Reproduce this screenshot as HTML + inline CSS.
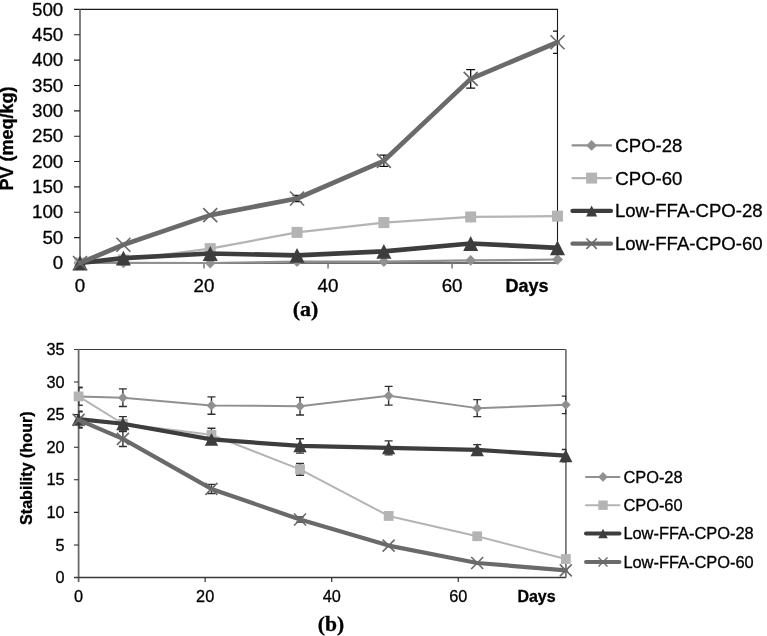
<!DOCTYPE html><html><head><meta charset="utf-8"><style>html,body{margin:0;padding:0;background:#fff;width:767px;height:636px;overflow:hidden}svg{display:block;filter:grayscale(1)}text{stroke:#000;stroke-width:0.3px;paint-order:stroke}</style></head><body>
<svg width="767" height="636" viewBox="0 0 767 636">
<rect width="767" height="636" fill="#fff"/>
<defs><clipPath id="ca"><rect x="80" y="0" width="478.1" height="300"/></clipPath>
<clipPath id="cb"><rect x="78.6" y="330" width="487.8" height="260"/></clipPath></defs>
<path d="M74 9.4H557.5V263" stroke="#1a1a1a" stroke-width="1.1" fill="none"/>
<path d="M80 9.4V268.5" stroke="#7a7a7a" stroke-width="1.9" fill="none"/>
<path d="M74 263H80M74 237.64H80M74 212.28H80M74 186.92H80M74 161.56H80M74 136.2H80M74 110.84H80M74 85.48H80M74 60.12H80M74 34.76H80" stroke="#222" stroke-width="1.1" fill="none"/>
<path d="M74 263H557.5" stroke="#6e6e6e" stroke-width="1.9" fill="none"/>
<path d="M204.03 263V268.5M328.05 263V268.5M452.08 263V268.5" stroke="#7a7a7a" stroke-width="1.5" fill="none"/>
<text x="63.3" y="269.1" font-family="Liberation Sans" font-size="18.75" font-weight="normal" text-anchor="end">0</text>
<text x="63.3" y="243.74" font-family="Liberation Sans" font-size="18.75" font-weight="normal" text-anchor="end">50</text>
<text x="63.3" y="218.38" font-family="Liberation Sans" font-size="18.75" font-weight="normal" text-anchor="end">100</text>
<text x="63.3" y="193.02" font-family="Liberation Sans" font-size="18.75" font-weight="normal" text-anchor="end">150</text>
<text x="63.3" y="167.66" font-family="Liberation Sans" font-size="18.75" font-weight="normal" text-anchor="end">200</text>
<text x="63.3" y="142.3" font-family="Liberation Sans" font-size="18.75" font-weight="normal" text-anchor="end">250</text>
<text x="63.3" y="116.94" font-family="Liberation Sans" font-size="18.75" font-weight="normal" text-anchor="end">300</text>
<text x="63.3" y="91.58" font-family="Liberation Sans" font-size="18.75" font-weight="normal" text-anchor="end">350</text>
<text x="63.3" y="66.22" font-family="Liberation Sans" font-size="18.75" font-weight="normal" text-anchor="end">400</text>
<text x="63.3" y="40.86" font-family="Liberation Sans" font-size="18.75" font-weight="normal" text-anchor="end">450</text>
<text x="63.3" y="15.5" font-family="Liberation Sans" font-size="18.75" font-weight="normal" text-anchor="end">500</text>
<text x="80" y="291.8" font-family="Liberation Sans" font-size="18.75" font-weight="normal" text-anchor="middle">0</text>
<text x="204.03" y="291.8" font-family="Liberation Sans" font-size="18.75" font-weight="normal" text-anchor="middle">20</text>
<text x="328.05" y="291.8" font-family="Liberation Sans" font-size="18.75" font-weight="normal" text-anchor="middle">40</text>
<text x="452.08" y="291.8" font-family="Liberation Sans" font-size="18.75" font-weight="normal" text-anchor="middle">60</text>
<text x="505.5" y="292.4" font-family="Liberation Sans" font-size="18" font-weight="bold" text-anchor="start">Days</text>
<text x="305.5" y="316" font-family="Liberation Serif" font-size="22" font-weight="bold" text-anchor="middle">(a)</text>
<text transform="translate(13.4 138.6) rotate(-90)" font-family="Liberation Sans" font-size="18" font-weight="bold" text-anchor="middle">PV (meq/kg)</text>
<polyline points="80,263 123.41,262.85 210.23,263 297.05,261.58 383.86,261.58 470.68,260.46 557.5,259.5" fill="none" stroke="#909090" stroke-width="2.2" stroke-linejoin="round" stroke-linecap="round"/>
<polygon points="80,257.6 85.4,263 80,268.4 74.6,263" fill="#909090"/>
<polygon points="123.41,257.45 128.81,262.85 123.41,268.25 118.01,262.85" fill="#909090"/>
<polygon points="210.23,257.6 215.63,263 210.23,268.4 204.83,263" fill="#909090"/>
<polygon points="297.05,256.18 302.45,261.58 297.05,266.98 291.65,261.58" fill="#909090"/>
<polygon points="383.86,256.18 389.26,261.58 383.86,266.98 378.46,261.58" fill="#909090"/>
<polygon points="470.68,255.06 476.08,260.46 470.68,265.86 465.28,260.46" fill="#909090"/>
<polygon points="557.5,254.1 562.9,259.5 557.5,264.9 552.1,259.5" fill="#909090"/>
<polyline points="80,263 123.41,259.96 210.23,248.65 297.05,232.37 383.86,222.58 470.68,216.95 557.5,216.13" fill="none" stroke="#b4b4b4" stroke-width="2.2" stroke-linejoin="round" stroke-linecap="round"/>
<rect x="74.5" y="257.5" width="11" height="11" fill="#b4b4b4"/>
<rect x="117.91" y="254.46" width="11" height="11" fill="#b4b4b4"/>
<rect x="204.73" y="243.15" width="11" height="11" fill="#b4b4b4"/>
<rect x="291.55" y="226.87" width="11" height="11" fill="#b4b4b4"/>
<rect x="378.36" y="217.08" width="11" height="11" fill="#b4b4b4"/>
<rect x="465.18" y="211.45" width="11" height="11" fill="#b4b4b4"/>
<rect x="552" y="210.63" width="11" height="11" fill="#b4b4b4"/>
<polyline points="80,263 123.41,258.08 210.23,253.52 297.05,255.39 383.86,251.33 470.68,243.52 557.5,247.78" fill="none" stroke="#3d3d3d" stroke-width="4.7" stroke-linejoin="round" stroke-linecap="round"/>
<polygon points="80,255.6 87.5,270.4 72.5,270.4" fill="#3d3d3d"/>
<polygon points="123.41,250.68 130.91,265.48 115.91,265.48" fill="#3d3d3d"/>
<polygon points="210.23,246.12 217.73,260.92 202.73,260.92" fill="#3d3d3d"/>
<polygon points="297.05,247.99 304.55,262.79 289.55,262.79" fill="#3d3d3d"/>
<polygon points="383.86,243.93 391.36,258.73 376.36,258.73" fill="#3d3d3d"/>
<polygon points="470.68,236.12 478.18,250.92 463.18,250.92" fill="#3d3d3d"/>
<polygon points="557.5,240.38 565,255.18 550,255.18" fill="#3d3d3d"/>
<path d="M297.05 195.49V201.58M292.55 195.49H301.55M292.55 201.58H301.55" stroke="#111" stroke-width="1.3" fill="none" clip-path="url(#ca)"/>
<path d="M383.86 155.22V166.38M379.36 155.22H388.36M379.36 166.38H388.36" stroke="#111" stroke-width="1.3" fill="none" clip-path="url(#ca)"/>
<path d="M470.68 69.6V88.17M466.18 69.6H475.18M466.18 88.17H475.18" stroke="#111" stroke-width="1.3" fill="none" clip-path="url(#ca)"/>
<path d="M557.5 31.21V53.32M553 31.21H562M553 53.32H562" stroke="#111" stroke-width="1.3" fill="none" clip-path="url(#ca)"/>
<polyline points="80,263 123.41,244.79 210.23,215.12 297.05,198.53 383.86,160.8 470.68,78.89 557.5,42.27" fill="none" stroke="#6a6a6a" stroke-width="4.7" stroke-linejoin="round" stroke-linecap="round"/>
<path d="M73 256L87 270M87 256L73 270" stroke="#6a6a6a" stroke-width="1.65" fill="none"/>
<path d="M116.41 237.79L130.41 251.79M130.41 237.79L116.41 251.79" stroke="#6a6a6a" stroke-width="1.65" fill="none"/>
<path d="M203.23 208.12L217.23 222.12M217.23 208.12L203.23 222.12" stroke="#6a6a6a" stroke-width="1.65" fill="none"/>
<path d="M290.05 191.53L304.05 205.53M304.05 191.53L290.05 205.53" stroke="#6a6a6a" stroke-width="1.65" fill="none"/>
<path d="M376.86 153.8L390.86 167.8M390.86 153.8L376.86 167.8" stroke="#6a6a6a" stroke-width="1.65" fill="none"/>
<path d="M463.68 71.89L477.68 85.89M477.68 71.89L463.68 85.89" stroke="#6a6a6a" stroke-width="1.65" fill="none"/>
<path d="M550.5 35.27L564.5 49.27M564.5 35.27L550.5 49.27" stroke="#6a6a6a" stroke-width="1.65" fill="none"/>
<path d="M572.5 145.4H611" stroke="#909090" stroke-width="2.2" stroke-linecap="round" fill="none"/>
<polygon points="591.6,140 597,145.4 591.6,150.8 586.2,145.4" fill="#909090"/>
<text x="615.3" y="151.8" font-family="Liberation Sans" font-size="18.6" font-weight="normal" text-anchor="start">CPO-28</text>
<path d="M572.5 178.1H611" stroke="#b4b4b4" stroke-width="2.2" stroke-linecap="round" fill="none"/>
<rect x="586.1" y="172.6" width="11" height="11" fill="#b4b4b4"/>
<text x="615.3" y="184.5" font-family="Liberation Sans" font-size="18.6" font-weight="normal" text-anchor="start">CPO-60</text>
<path d="M572.5 210.9H611" stroke="#3d3d3d" stroke-width="4.3" stroke-linecap="round" fill="none"/>
<polygon points="591.6,205.4 597.1,216.4 586.1,216.4" fill="#3d3d3d"/>
<text x="614.9" y="217.3" font-family="Liberation Sans" font-size="18.6" font-weight="normal" text-anchor="start">Low-FFA-CPO-28</text>
<path d="M572.5 243.7H611" stroke="#6a6a6a" stroke-width="4.3" stroke-linecap="round" fill="none"/>
<path d="M586.4 238.5L596.8 248.9M596.8 238.5L586.4 248.9" stroke="#6a6a6a" stroke-width="1.6" fill="none"/>
<text x="614.9" y="250.1" font-family="Liberation Sans" font-size="18.6" font-weight="normal" text-anchor="start">Low-FFA-CPO-60</text>
<path d="M74 349.5H565.8" stroke="#3a3a3a" stroke-width="1.2" fill="none"/>
<path d="M565.9 349.5V577.5" stroke="#787878" stroke-width="1.8" fill="none"/>
<path d="M78.6 349.5V582" stroke="#6a6a6a" stroke-width="1.8" fill="none"/>
<path d="M74 577.5H78.6M74 544.93H78.6M74 512.36H78.6M74 479.79H78.6M74 447.21H78.6M74 414.64H78.6M74 382.07H78.6" stroke="#222" stroke-width="1.1" fill="none"/>
<path d="M74 577.5H565.8" stroke="#3a3a3a" stroke-width="1.4" fill="none"/>
<path d="M205.15 577.5V582.1M331.69 577.5V582.1M458.24 577.5V582.1" stroke="#333" stroke-width="1.2" fill="none"/>
<text x="64.6" y="583.2" font-family="Liberation Sans" font-size="16.3" font-weight="normal" text-anchor="end">0</text>
<text x="64.6" y="550.63" font-family="Liberation Sans" font-size="16.3" font-weight="normal" text-anchor="end">5</text>
<text x="64.6" y="518.06" font-family="Liberation Sans" font-size="16.3" font-weight="normal" text-anchor="end">10</text>
<text x="64.6" y="485.49" font-family="Liberation Sans" font-size="16.3" font-weight="normal" text-anchor="end">15</text>
<text x="64.6" y="452.91" font-family="Liberation Sans" font-size="16.3" font-weight="normal" text-anchor="end">20</text>
<text x="64.6" y="420.34" font-family="Liberation Sans" font-size="16.3" font-weight="normal" text-anchor="end">25</text>
<text x="64.6" y="387.77" font-family="Liberation Sans" font-size="16.3" font-weight="normal" text-anchor="end">30</text>
<text x="64.6" y="355.2" font-family="Liberation Sans" font-size="16.3" font-weight="normal" text-anchor="end">35</text>
<text x="78.6" y="601.8" font-family="Liberation Sans" font-size="16.3" font-weight="normal" text-anchor="middle">0</text>
<text x="205.15" y="601.8" font-family="Liberation Sans" font-size="16.3" font-weight="normal" text-anchor="middle">20</text>
<text x="331.69" y="601.8" font-family="Liberation Sans" font-size="16.3" font-weight="normal" text-anchor="middle">40</text>
<text x="458.24" y="601.8" font-family="Liberation Sans" font-size="16.3" font-weight="normal" text-anchor="middle">60</text>
<text x="517.4" y="601.8" font-family="Liberation Sans" font-size="16" font-weight="bold" text-anchor="start">Days</text>
<text x="331" y="631.3" font-family="Liberation Serif" font-size="21.6" font-weight="bold" text-anchor="middle">(b)</text>
<text transform="translate(31.6 468.2) rotate(-90)" font-family="Liberation Sans" font-size="16.1" font-weight="bold" text-anchor="middle">Stability (hour)</text>
<path d="M78.6 387.48V405.33M74.6 387.48H82.6M74.6 405.33H82.6" stroke="#303030" stroke-width="1.4" fill="none" clip-path="url(#cb)"/>
<path d="M122.89 388.91V406.5M118.89 388.91H126.89M118.89 406.5H126.89" stroke="#303030" stroke-width="1.4" fill="none" clip-path="url(#cb)"/>
<path d="M211.47 396.86V414.19M207.47 396.86H215.47M207.47 414.19H215.47" stroke="#303030" stroke-width="1.4" fill="none" clip-path="url(#cb)"/>
<path d="M300.05 397.38V414.97M296.05 397.38H304.05M296.05 414.97H304.05" stroke="#303030" stroke-width="1.4" fill="none" clip-path="url(#cb)"/>
<path d="M388.64 386.37V405.13M384.64 386.37H392.64M384.64 405.13H392.64" stroke="#303030" stroke-width="1.4" fill="none" clip-path="url(#cb)"/>
<path d="M477.22 399.66V416.6M473.22 399.66H481.22M473.22 416.6H481.22" stroke="#303030" stroke-width="1.4" fill="none" clip-path="url(#cb)"/>
<path d="M565.8 396.08V413.67M561.8 396.08H569.8M561.8 413.67H569.8" stroke="#303030" stroke-width="1.4" fill="none" clip-path="url(#cb)"/>
<polyline points="78.6,396.4 122.89,397.71 211.47,405.52 300.05,406.17 388.64,395.75 477.22,408.13 565.8,404.87" fill="none" stroke="#909090" stroke-width="2" stroke-linejoin="round" stroke-linecap="round"/>
<polygon points="78.6,391.5 83.5,396.4 78.6,401.3 73.7,396.4" fill="#909090"/>
<polygon points="122.89,392.81 127.79,397.71 122.89,402.61 117.99,397.71" fill="#909090"/>
<polygon points="211.47,400.62 216.37,405.52 211.47,410.42 206.57,405.52" fill="#909090"/>
<polygon points="300.05,401.27 304.95,406.17 300.05,411.07 295.15,406.17" fill="#909090"/>
<polygon points="388.64,390.85 393.54,395.75 388.64,400.65 383.74,395.75" fill="#909090"/>
<polygon points="477.22,403.23 482.12,408.13 477.22,413.03 472.32,408.13" fill="#909090"/>
<polygon points="565.8,399.97 570.7,404.87 565.8,409.77 560.9,404.87" fill="#909090"/>
<path d="M78.6 387.48V405.33M74.6 387.48H82.6M74.6 405.33H82.6" stroke="#303030" stroke-width="1.4" fill="none" clip-path="url(#cb)"/>
<path d="M211.47 428.32V441.35M207.47 428.32H215.47M207.47 441.35H215.47" stroke="#303030" stroke-width="1.4" fill="none" clip-path="url(#cb)"/>
<path d="M300.05 463.5V475.23M296.05 463.5H304.05M296.05 475.23H304.05" stroke="#303030" stroke-width="1.4" fill="none" clip-path="url(#cb)"/>
<polyline points="78.6,396.4 122.89,423.76 211.47,434.84 300.05,469.36 388.64,515.94 477.22,536.26 565.8,559" fill="none" stroke="#b4b4b4" stroke-width="2" stroke-linejoin="round" stroke-linecap="round"/>
<rect x="73.7" y="391.5" width="9.8" height="9.8" fill="#b4b4b4"/>
<rect x="117.99" y="418.86" width="9.8" height="9.8" fill="#b4b4b4"/>
<rect x="206.57" y="429.94" width="9.8" height="9.8" fill="#b4b4b4"/>
<rect x="295.15" y="464.46" width="9.8" height="9.8" fill="#b4b4b4"/>
<rect x="383.74" y="511.04" width="9.8" height="9.8" fill="#b4b4b4"/>
<rect x="472.32" y="531.36" width="9.8" height="9.8" fill="#b4b4b4"/>
<rect x="560.9" y="554.1" width="9.8" height="9.8" fill="#b4b4b4"/>
<path d="M78.6 411.13V427.28M74.6 411.13H82.6M74.6 427.28H82.6" stroke="#303030" stroke-width="1.4" fill="none" clip-path="url(#cb)"/>
<path d="M122.89 416.6V430.93M118.89 416.6H126.89M118.89 430.93H126.89" stroke="#303030" stroke-width="1.4" fill="none" clip-path="url(#cb)"/>
<path d="M300.05 438.75V453.08M296.05 438.75H304.05M296.05 453.08H304.05" stroke="#303030" stroke-width="1.4" fill="none" clip-path="url(#cb)"/>
<path d="M388.64 440.83V454.9M384.64 440.83H392.64M384.64 454.9H392.64" stroke="#303030" stroke-width="1.4" fill="none" clip-path="url(#cb)"/>
<path d="M477.22 444.61V455.03M473.22 444.61H481.22M473.22 455.03H481.22" stroke="#303030" stroke-width="1.4" fill="none" clip-path="url(#cb)"/>
<path d="M565.8 449.49V461.87M561.8 449.49H569.8M561.8 461.87H569.8" stroke="#303030" stroke-width="1.4" fill="none" clip-path="url(#cb)"/>
<polyline points="78.6,419.2 122.89,423.76 211.47,439.4 300.05,445.91 388.64,447.87 477.22,449.82 565.8,455.68" fill="none" stroke="#3d3d3d" stroke-width="4.2" stroke-linejoin="round" stroke-linecap="round"/>
<polygon points="78.6,412.75 85.25,425.65 71.95,425.65" fill="#3d3d3d"/>
<polygon points="122.89,417.31 129.54,430.21 116.24,430.21" fill="#3d3d3d"/>
<polygon points="211.47,432.95 218.12,445.85 204.82,445.85" fill="#3d3d3d"/>
<polygon points="300.05,439.46 306.7,452.36 293.4,452.36" fill="#3d3d3d"/>
<polygon points="388.64,441.42 395.29,454.32 381.99,454.32" fill="#3d3d3d"/>
<polygon points="477.22,443.37 483.87,456.27 470.57,456.27" fill="#3d3d3d"/>
<polygon points="565.8,449.23 572.45,462.13 559.15,462.13" fill="#3d3d3d"/>
<path d="M78.6 411.78V427.93M74.6 411.78H82.6M74.6 427.93H82.6" stroke="#303030" stroke-width="1.4" fill="none" clip-path="url(#cb)"/>
<path d="M122.89 431.45V446.43M118.89 431.45H126.89M118.89 446.43H126.89" stroke="#303030" stroke-width="1.4" fill="none" clip-path="url(#cb)"/>
<path d="M211.47 484.35V493.47M207.47 484.35H215.47M207.47 493.47H215.47" stroke="#303030" stroke-width="1.4" fill="none" clip-path="url(#cb)"/>
<path d="M300.05 516.92V522.13M296.05 516.92H304.05M296.05 522.13H304.05" stroke="#303030" stroke-width="1.4" fill="none" clip-path="url(#cb)"/>
<polyline points="78.6,419.85 122.89,438.94 211.47,488.91 300.05,519.52 388.64,545.58 477.22,562.97 565.8,570.33" fill="none" stroke="#6a6a6a" stroke-width="4.2" stroke-linejoin="round" stroke-linecap="round"/>
<path d="M72.6 413.85L84.6 425.85M84.6 413.85L72.6 425.85" stroke="#6a6a6a" stroke-width="1.6" fill="none"/>
<path d="M116.89 432.94L128.89 444.94M128.89 432.94L116.89 444.94" stroke="#6a6a6a" stroke-width="1.6" fill="none"/>
<path d="M205.47 482.91L217.47 494.91M217.47 482.91L205.47 494.91" stroke="#6a6a6a" stroke-width="1.6" fill="none"/>
<path d="M294.05 513.52L306.05 525.52M306.05 513.52L294.05 525.52" stroke="#6a6a6a" stroke-width="1.6" fill="none"/>
<path d="M382.64 539.58L394.64 551.58M394.64 539.58L382.64 551.58" stroke="#6a6a6a" stroke-width="1.6" fill="none"/>
<path d="M471.22 556.97L483.22 568.97M483.22 556.97L471.22 568.97" stroke="#6a6a6a" stroke-width="1.6" fill="none"/>
<path d="M559.8 564.33L571.8 576.33M571.8 564.33L559.8 576.33" stroke="#6a6a6a" stroke-width="1.6" fill="none"/>
<path d="M586 476.9H619.5" stroke="#909090" stroke-width="2" stroke-linecap="round" fill="none"/>
<polygon points="603,472 607.9,476.9 603,481.8 598.1,476.9" fill="#909090"/>
<text x="623.4" y="482.55" font-family="Liberation Sans" font-size="16.4" font-weight="normal" text-anchor="start">CPO-28</text>
<path d="M586 505.2H619.5" stroke="#b4b4b4" stroke-width="2" stroke-linecap="round" fill="none"/>
<rect x="598.3" y="500.5" width="9.4" height="9.4" fill="#b4b4b4"/>
<text x="623.4" y="510.85" font-family="Liberation Sans" font-size="16.4" font-weight="normal" text-anchor="start">CPO-60</text>
<path d="M586 533.6H619.5" stroke="#3d3d3d" stroke-width="4" stroke-linecap="round" fill="none"/>
<polygon points="603,528.85 607.75,538.35 598.25,538.35" fill="#3d3d3d"/>
<text x="623.4" y="539.25" font-family="Liberation Sans" font-size="16.4" font-weight="normal" text-anchor="start">Low-FFA-CPO-28</text>
<path d="M586 562H619.5" stroke="#6a6a6a" stroke-width="4" stroke-linecap="round" fill="none"/>
<path d="M598.5 557.5L607.5 566.5M607.5 557.5L598.5 566.5" stroke="#6a6a6a" stroke-width="1.4" fill="none"/>
<text x="623.4" y="567.65" font-family="Liberation Sans" font-size="16.4" font-weight="normal" text-anchor="start">Low-FFA-CPO-60</text>
</svg></body></html>
